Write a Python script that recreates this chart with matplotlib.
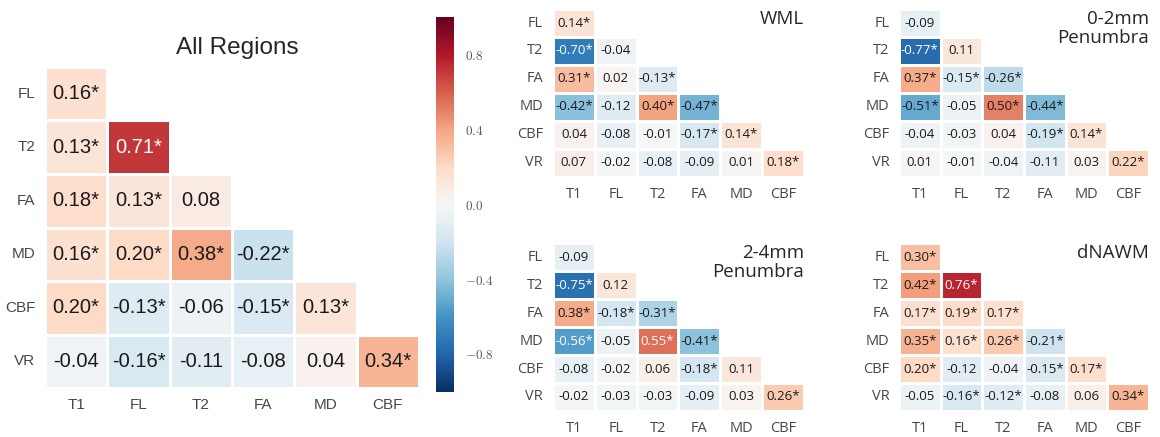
import numpy as np
import matplotlib
matplotlib.use('Agg')
import matplotlib.pyplot as plt
import seaborn as sns

sns.set_style('white')
plt.rcParams['mathtext.fontset'] = 'cm'

# Row / column names of the lower triangle
rows = ['FL', 'T2', 'FA', 'MD', 'CBF', 'VR']
cols = ['T1', 'FL', 'T2', 'FA', 'MD', 'CBF']

# Correlations, row by row (lower triangle only), and significance flags
all_vals = [[0.16], [0.13, 0.71], [0.18, 0.13, 0.08], [0.16, 0.20, 0.38, -0.22],
            [0.20, -0.13, -0.06, -0.15, 0.13], [-0.04, -0.16, -0.11, -0.08, 0.04, 0.34]]
all_sig = [[1], [1, 1], [1, 1, 0], [1, 1, 1, 1], [1, 1, 0, 1, 1], [0, 1, 0, 0, 0, 1]]

wml_vals = [[0.14], [-0.70, -0.04], [0.31, 0.02, -0.13], [-0.42, -0.12, 0.40, -0.47],
            [0.04, -0.08, -0.01, -0.17, 0.14], [0.07, -0.02, -0.08, -0.09, 0.01, 0.18]]
wml_sig = [[1], [1, 0], [1, 0, 1], [1, 0, 1, 1], [0, 0, 0, 1, 1], [0, 0, 0, 0, 0, 1]]

pen02_vals = [[-0.09], [-0.77, 0.11], [0.37, -0.15, -0.26], [-0.51, -0.05, 0.50, -0.44],
              [-0.04, -0.03, 0.04, -0.19, 0.14], [0.01, -0.01, -0.04, -0.11, 0.03, 0.22]]
pen02_sig = [[0], [1, 0], [1, 1, 1], [1, 0, 1, 1], [0, 0, 0, 1, 1], [0, 0, 0, 0, 0, 1]]

pen24_vals = [[-0.09], [-0.75, 0.12], [0.38, -0.18, -0.31], [-0.56, -0.05, 0.55, -0.41],
              [-0.08, -0.02, 0.06, -0.18, 0.11], [-0.02, -0.03, -0.03, -0.09, 0.03, 0.26]]
pen24_sig = [[0], [1, 0], [1, 1, 1], [1, 0, 1, 1], [0, 0, 0, 1, 0], [0, 0, 0, 0, 0, 1]]

dnawm_vals = [[0.30], [0.42, 0.76], [0.17, 0.19, 0.17], [0.35, 0.16, 0.26, -0.21],
              [0.20, -0.12, -0.04, -0.15, 0.17], [-0.05, -0.16, -0.12, -0.08, 0.06, 0.34]]
dnawm_sig = [[1], [1, 1], [1, 1, 1], [1, 1, 1, 1], [1, 0, 0, 1, 1], [0, 1, 1, 0, 0, 1]]


def to_matrix(vals):
    m = np.full((len(rows), len(cols)), np.nan)
    for i, r in enumerate(vals):
        m[i, :len(r)] = r
    return m


def draw(ax, vals, sig, font, fsize, tsize, cbar_ax=None):
    m = to_matrix(vals)
    sns.heatmap(m, ax=ax, cmap='RdBu_r', vmin=-1, vmax=1, mask=np.isnan(m),
                linewidths=0.8, linecolor='white', cbar=cbar_ax is not None,
                cbar_ax=cbar_ax, xticklabels=cols, yticklabels=rows)
    for i, r in enumerate(vals):
        for j, v in enumerate(r):
            s = '{:.2f}'.format(v) + ('*' if sig[i][j] else '')
            c = 'white' if abs(v) > 0.52 else '0.1'
            ax.text(j + 0.5, i + 0.5, s, ha='center', va='center', color=c,
                    fontsize=fsize, family=font)
    ax.tick_params(length=0, pad=7)
    for lab in ax.get_xticklabels() + ax.get_yticklabels():
        lab.set_family(font)
        lab.set_fontsize(tsize)
        lab.set_color('0.28')
    plt.setp(ax.get_yticklabels(), rotation=0)
    plt.setp(ax.get_xticklabels(), rotation=0)


fig = plt.figure(figsize=(11.6, 4.37), dpi=100)

ax_main = fig.add_axes([0.0388, 0.1121, 0.3224, 0.7346])
cax = fig.add_axes([0.3759, 0.1030, 0.0155, 0.858])
draw(ax_main, all_vals, all_sig, 'Liberation Sans', 14.5, 11, cbar_ax=cax)
fig.text(0.205, 0.89, 'All Regions', ha='center', va='center', fontsize=17.5,
         family='Liberation Sans')

cb = ax_main.collections[0].colorbar
cb.set_ticks([-0.8, -0.4, 0.0, 0.4, 0.8])
cb.set_ticklabels([r'$-0.8$', r'$-0.4$', r'$0.0$', r'$0.4$', r'$0.8$'])
cb.ax.tick_params(length=0, pad=8, labelsize=9.5, labelcolor='0.35')
cb.outline.set_visible(False)

small = [
    ([0.4767, 0.595, 0.2164, 0.3844], wml_vals, wml_sig, 'WML'),
    ([0.775, 0.595, 0.2155, 0.3844], pen02_vals, pen02_sig, '0-2mm\nPenumbra'),
    ([0.4767, 0.0595, 0.2164, 0.3844], pen24_vals, pen24_sig, '2-4mm\nPenumbra'),
    ([0.775, 0.0595, 0.2155, 0.3844], dnawm_vals, dnawm_sig, 'dNAWM'),
]
for pos, vals, sig, title in small:
    ax = fig.add_axes(pos)
    draw(ax, vals, sig, 'Open Sans', 9.5, 10.5)
    ax.text(1.0, 0.995, title, transform=ax.transAxes, ha='right', va='top',
            fontsize=13.5, family='Open Sans', linespacing=1.05)

fig.savefig('out.png', dpi=100)
